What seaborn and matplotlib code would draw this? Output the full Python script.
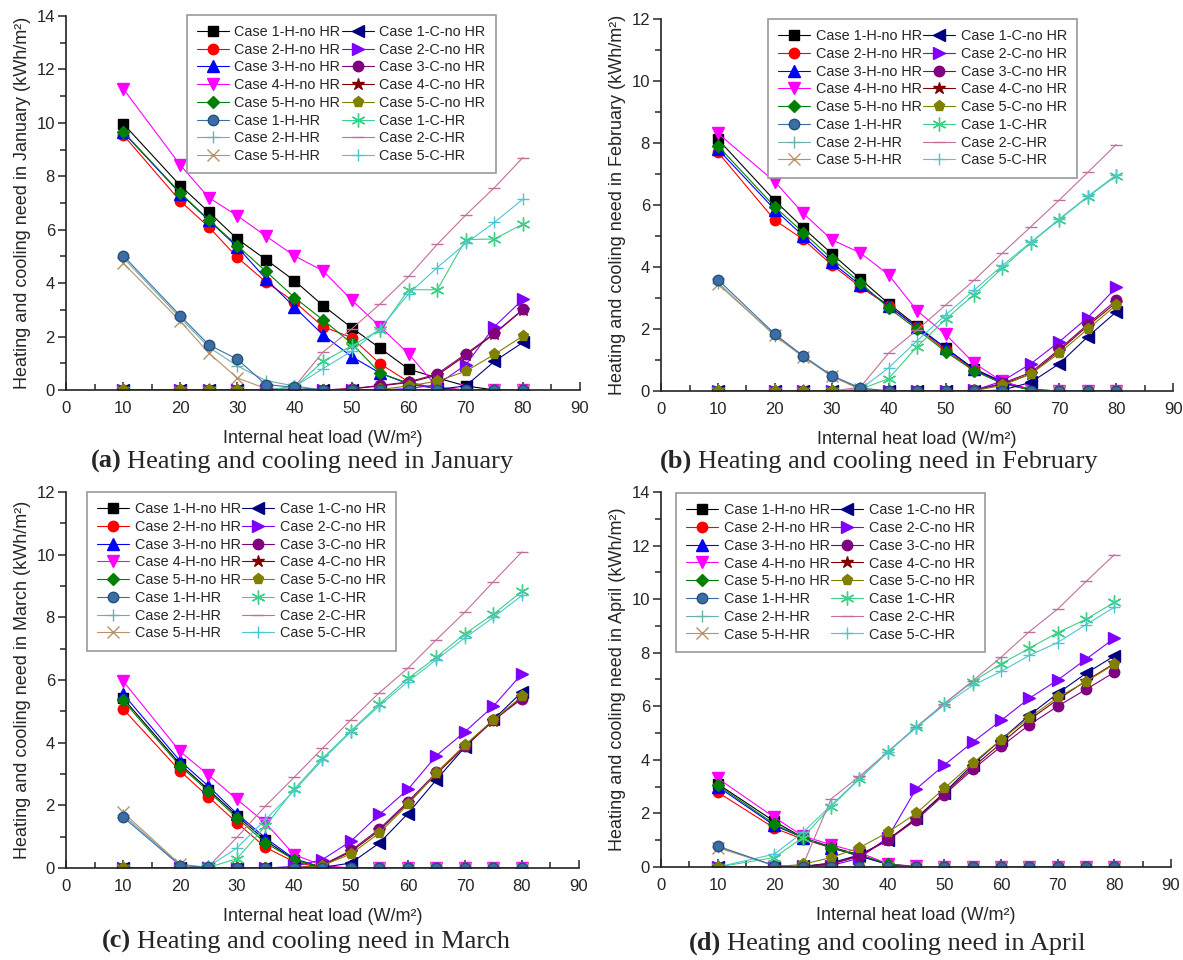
import numpy as np
import pandas as pd
import seaborn as sns
import matplotlib.pyplot as plt
from matplotlib.ticker import MultipleLocator

# internal heat load (W/m2), same for every panel
heat_load = [10, 20, 25, 30, 35, 40, 45, 50, 55, 60, 65, 70, 75, 80]

# ---- January ----
jan_1h = [9.97, 7.65, 6.66, 5.65, 4.88, 4.09, 3.16, 2.33, 1.56, 0.78, 0.45, 0.15, 0, 0]
jan_2h = [9.55, 7.07, 6.10, 4.96, 4.04, 3.30, 2.37, 1.96, 0.98, 0.30, 0.05, 0, 0, 0]
jan_3h = [9.65, 7.35, 6.35, 5.35, 4.16, 3.10, 2.06, 1.25, 0.63, 0.22, 0.05, 0, 0, 0]
jan_4h = [11.28, 8.42, 7.20, 6.52, 5.76, 5.02, 4.46, 3.37, 2.37, 1.35, 0.10, 0, 0, 0]
jan_5h = [9.67, 7.38, 6.37, 5.40, 4.44, 3.46, 2.62, 1.75, 0.63, 0.25, 0.05, 0, 0, 0]
jan_1h_hr = [5.03, 2.78, 1.69, 1.15, 0.20, 0.10, 0, 0, 0, 0, 0, 0, 0, 0]
jan_2h_hr = [4.95, 2.70, 1.60, 0.90, 0.35, 0.15, 0, 0, 0, 0, 0, 0, 0, 0]
jan_5h_hr = [4.75, 2.58, 1.38, 0.45, 0.05, 0, 0, 0, 0, 0, 0, 0, 0, 0]
jan_1c = [0, 0, 0, 0, 0, 0, 0, 0, 0, 0, 0.02, 0.15, 1.07, 1.78]
jan_2c = [0, 0, 0, 0, 0, 0, 0, 0, 0, 0.05, 0.20, 0.94, 2.37, 3.39]
jan_3c = [0, 0, 0, 0, 0, 0, 0, 0.05, 0.17, 0.30, 0.60, 1.35, 2.12, 3.02]
jan_4c = [0, 0, 0, 0, 0, 0, 0, 0.04, 0.15, 0.28, 0.55, 1.30, 2.10, 3.00]
jan_5c = [0, 0, 0, 0, 0, 0, 0, 0, 0.02, 0.15, 0.33, 0.70, 1.33, 2.02]
jan_1c_hr = [0, 0, 0, 0, 0, 0.10, 1.07, 1.65, 2.25, 3.75, 3.75, 5.63, 5.65, 6.21]
jan_2c_hr = [0, 0, 0, 0, 0, 0.12, 1.42, 2.28, 3.22, 4.25, 5.45, 6.55, 7.57, 8.70]
jan_5c_hr = [0, 0, 0, 0, 0, 0.12, 0.80, 1.45, 2.30, 3.60, 4.58, 5.49, 6.27, 7.14]

# ---- February ----
feb_1h = [8.12, 6.14, 5.26, 4.43, 3.62, 2.82, 2.10, 1.38, 0.72, 0.30, 0.05, 0, 0, 0]
feb_2h = [7.70, 5.51, 4.89, 4.07, 3.36, 2.75, 2.05, 1.32, 0.68, 0.25, 0.03, 0, 0, 0]
feb_3h = [7.80, 5.85, 5.00, 4.15, 3.42, 2.75, 2.05, 1.40, 0.70, 0.28, 0.03, 0, 0, 0]
feb_4h = [8.31, 6.75, 5.73, 4.88, 4.46, 3.75, 2.59, 1.83, 0.90, 0.31, 0.05, 0, 0, 0]
feb_5h = [7.91, 5.94, 5.11, 4.27, 3.50, 2.68, 1.99, 1.27, 0.65, 0.24, 0.03, 0, 0, 0]
feb_1h_hr = [3.59, 1.84, 1.13, 0.50, 0.10, 0, 0, 0, 0, 0, 0, 0, 0, 0]
feb_2h_hr = [3.50, 1.78, 1.10, 0.47, 0.08, 0, 0, 0, 0, 0, 0, 0, 0, 0]
feb_5h_hr = [3.45, 1.80, 1.10, 0.48, 0.05, 0, 0, 0, 0, 0, 0, 0, 0, 0]
feb_1c = [0, 0, 0, 0, 0, 0, 0, 0, 0, 0.03, 0.28, 0.88, 1.75, 2.55]
feb_2c = [0, 0, 0, 0, 0, 0, 0, 0, 0.02, 0.32, 0.88, 1.59, 2.37, 3.34]
feb_3c = [0, 0, 0, 0, 0, 0, 0, 0, 0.02, 0.25, 0.60, 1.35, 2.15, 2.93]
feb_4c = [0, 0, 0, 0, 0, 0, 0, 0, 0.02, 0.22, 0.55, 1.30, 2.10, 2.85]
feb_5c = [0, 0, 0, 0, 0, 0, 0, 0, 0.01, 0.18, 0.55, 1.22, 2.00, 2.77]
feb_1c_hr = [0, 0, 0, 0, 0.05, 0.40, 1.43, 2.31, 3.11, 3.97, 4.78, 5.53, 6.26, 6.94]
feb_2c_hr = [0, 0, 0, 0, 0.12, 1.22, 1.97, 2.77, 3.57, 4.45, 5.30, 6.16, 7.05, 7.95]
feb_5c_hr = [0, 0, 0, 0, 0.05, 0.75, 1.62, 2.45, 3.25, 4.05, 4.80, 5.55, 6.28, 6.97]

# ---- March ----
mar_1h = [5.42, 3.32, 2.50, 1.67, 0.88, 0.27, 0.02, 0, 0, 0, 0, 0, 0, 0]
mar_2h = [5.08, 3.10, 2.27, 1.44, 0.66, 0.20, 0, 0, 0, 0, 0, 0, 0, 0]
mar_3h = [5.56, 3.42, 2.61, 1.73, 0.96, 0.30, 0.02, 0, 0, 0, 0, 0, 0, 0]
mar_4h = [5.97, 3.72, 2.97, 2.19, 1.44, 0.43, 0.08, 0, 0, 0, 0, 0, 0, 0]
mar_5h = [5.35, 3.26, 2.45, 1.60, 0.80, 0.27, 0.02, 0, 0, 0, 0, 0, 0, 0]
mar_1h_hr = [1.63, 0.08, 0.02, 0, 0, 0, 0, 0, 0, 0, 0, 0, 0, 0]
mar_2h_hr = [1.70, 0.10, 0.02, 0, 0, 0, 0, 0, 0, 0, 0, 0, 0, 0]
mar_5h_hr = [1.78, 0.12, 0.02, 0, 0, 0, 0, 0, 0, 0, 0, 0, 0, 0]
mar_1c = [0, 0, 0, 0, 0, 0, 0.02, 0.16, 0.80, 1.74, 2.82, 3.86, 4.74, 5.62]
mar_2c = [0, 0, 0, 0, 0, 0.05, 0.27, 0.86, 1.71, 2.51, 3.59, 4.35, 5.17, 6.20]
mar_3c = [0, 0, 0, 0, 0, 0, 0.10, 0.56, 1.25, 2.12, 3.05, 3.90, 4.72, 5.40]
mar_4c = [0, 0, 0, 0, 0, 0, 0.08, 0.52, 1.20, 2.08, 3.00, 3.88, 4.70, 5.45]
mar_5c = [0, 0, 0, 0, 0, 0, 0.08, 0.45, 1.12, 2.03, 3.04, 3.93, 4.73, 5.48]
mar_1c_hr = [0, 0, 0.02, 0.30, 1.34, 2.51, 3.50, 4.38, 5.24, 6.05, 6.73, 7.48, 8.10, 8.83]
mar_2c_hr = [0, 0, 0.05, 0.98, 1.98, 2.89, 3.82, 4.73, 5.60, 6.38, 7.29, 8.17, 9.14, 10.09]
mar_5c_hr = [0, 0, 0.05, 0.64, 1.55, 2.46, 3.45, 4.35, 5.18, 5.95, 6.65, 7.35, 8.00, 8.70]

# ---- April ----
apr_1h = [3.10, 1.70, 1.10, 0.75, 0.45, 0.10, 0, 0, 0, 0, 0, 0, 0, 0]
apr_2h = [2.79, 1.45, 1.04, 0.72, 0.41, 0.10, 0, 0, 0, 0, 0, 0, 0, 0]
apr_3h = [3.00, 1.55, 1.10, 0.72, 0.41, 0.10, 0, 0, 0, 0, 0, 0, 0, 0]
apr_4h = [3.31, 1.85, 1.16, 0.83, 0.54, 0.12, 0.02, 0, 0, 0, 0, 0, 0, 0]
apr_5h = [3.06, 1.60, 1.10, 0.72, 0.45, 0.12, 0, 0, 0, 0, 0, 0, 0, 0]
apr_1h_hr = [0.78, 0.05, 0, 0, 0, 0, 0, 0, 0, 0, 0, 0, 0, 0]
apr_2h_hr = [0.75, 0.05, 0, 0, 0, 0, 0, 0, 0, 0, 0, 0, 0, 0]
apr_5h_hr = [0.72, 0.05, 0, 0, 0, 0, 0, 0, 0, 0, 0, 0, 0, 0]
apr_1c = [0, 0, 0.02, 0.15, 0.45, 1.00, 1.82, 2.78, 3.82, 4.75, 5.67, 6.48, 7.23, 7.88]
apr_2c = [0, 0, 0.02, 0.05, 0.33, 1.10, 2.91, 3.81, 4.66, 5.47, 6.30, 6.98, 7.76, 8.54]
apr_3c = [0, 0, 0.02, 0.10, 0.40, 1.00, 1.75, 2.70, 3.64, 4.50, 5.31, 6.00, 6.63, 7.27]
apr_4c = [0, 0, 0.02, 0.12, 0.42, 1.02, 1.80, 2.75, 3.72, 4.62, 5.50, 6.25, 6.95, 7.60]
apr_5c = [0, 0, 0.10, 0.35, 0.72, 1.29, 2.00, 2.94, 3.88, 4.75, 5.58, 6.33, 6.92, 7.57]
apr_1c_hr = [0, 0.35, 1.10, 2.25, 3.29, 4.29, 5.22, 6.10, 6.92, 7.58, 8.17, 8.75, 9.25, 9.88]
apr_2c_hr = [0, 0, 0.05, 2.54, 3.38, 4.30, 5.22, 6.10, 6.95, 7.83, 8.79, 9.63, 10.66, 11.66]
apr_5c_hr = [0, 0.48, 1.29, 2.30, 3.30, 4.28, 5.20, 6.05, 6.78, 7.30, 7.90, 8.38, 9.05, 9.70]

# legend order: first column heating, second column cooling
series_labels = ["Case 1-H-no HR", "Case 2-H-no HR", "Case 3-H-no HR", "Case 4-H-no HR",
                 "Case 5-H-no HR", "Case 1-H-HR", "Case 2-H-HR", "Case 5-H-HR",
                 "Case 1-C-no HR", "Case 2-C-no HR", "Case 3-C-no HR", "Case 4-C-no HR",
                 "Case 5-C-no HR", "Case 1-C-HR", "Case 2-C-HR", "Case 5-C-HR"]

colors = ["#000000", "#ff0000", "#0000ff", "#ff00ff", "#008000", "#3c6ea6", "#70aeae", "#b8916a",
          "#000080", "#8000ff", "#800080", "#800000", "#808000", "#3ecf88", "#c0709a", "#4cc6cf"]
markers = ["s", "o", "^", "v", "D", "o", "+", "x",
           "<", ">", "o", "*", "p", (6, 2, 0), "_", "+"]
msizes = [7, 7.5, 8, 8, 6.5, 7.5, 9, 8, 8, 8, 7.5, 9, 8, 10, 9, 9]
# drawing order tweaks: spheres and olive pentagons show on the zero line,
# case 4 cooling sits under case 3 cooling
zorders = [2, 2, 2, 2, 2, 2.4, 2, 2, 2, 2, 2.2, 2.1, 2.3, 2, 2, 2]

jan = [jan_1h, jan_2h, jan_3h, jan_4h, jan_5h, jan_1h_hr, jan_2h_hr, jan_5h_hr,
       jan_1c, jan_2c, jan_3c, jan_4c, jan_5c, jan_1c_hr, jan_2c_hr, jan_5c_hr]
feb = [feb_1h, feb_2h, feb_3h, feb_4h, feb_5h, feb_1h_hr, feb_2h_hr, feb_5h_hr,
       feb_1c, feb_2c, feb_3c, feb_4c, feb_5c, feb_1c_hr, feb_2c_hr, feb_5c_hr]
mar = [mar_1h, mar_2h, mar_3h, mar_4h, mar_5h, mar_1h_hr, mar_2h_hr, mar_5h_hr,
       mar_1c, mar_2c, mar_3c, mar_4c, mar_5c, mar_1c_hr, mar_2c_hr, mar_5c_hr]
apr = [apr_1h, apr_2h, apr_3h, apr_4h, apr_5h, apr_1h_hr, apr_2h_hr, apr_5h_hr,
       apr_1c, apr_2c, apr_3c, apr_4c, apr_5c, apr_1c_hr, apr_2c_hr, apr_5c_hr]

sns.set_style("ticks")
plt.rcParams['font.family'] = ['Liberation Sans', 'DejaVu Sans']

fig = plt.figure(figsize=(11.83, 9.6), dpi=100)

# month, data, ymax, tag, axes rect, legend anchor (axes coords), caption centre
panels = [
    ("January", jan, 14, "(a)", [0.0558, 0.5938, 0.4345, 0.3896], (0.235, 1.003), 302, 0.519),
    ("February", feb, 12, "(b)", [0.5588, 0.5927, 0.4328, 0.3875], (0.209, 1.0), 879, 0.519),
    ("March", mar, 12, "(c)", [0.0558, 0.0958, 0.4336, 0.3917], (0.041, 1.0), 306, 0.019),
    ("April", apr, 14, "(d)", [0.5588, 0.0969, 0.4311, 0.3906], (0.029, 0.997), 887, 0.017),
]

W = 1183.0
renderer = fig.canvas.get_renderer()

for month, data, ymax, tag, rect, lg_anchor, cap_x, cap_y in panels:
    ax = fig.add_axes(rect)
    for vals, lab, c, m, ms, z in zip(data, series_labels, colors, markers, msizes, zorders):
        ec = "#24507e" if lab == "Case 1-H-HR" else c
        sns.lineplot(x=heat_load, y=vals, ax=ax, color=c, marker=m, markersize=ms,
                     markeredgecolor=ec, markeredgewidth=1.0, linewidth=0.8,
                     label=lab, zorder=z)
    ax.set_xlim(0, 90)
    ax.set_ylim(0, ymax)
    ax.xaxis.set_major_locator(MultipleLocator(10))
    ax.xaxis.set_minor_locator(MultipleLocator(5))
    ax.yaxis.set_major_locator(MultipleLocator(2))
    ax.yaxis.set_minor_locator(MultipleLocator(1))
    ax.tick_params(axis='x', which='major', direction='in', length=6, width=1.1, labelsize=12, pad=8)
    ax.tick_params(axis='x', which='minor', direction='in', length=4, width=1.1)
    ax.tick_params(axis='y', which='major', direction='out', length=6, width=1.1, labelsize=12, pad=2)
    ax.tick_params(axis='y', which='minor', direction='out', length=4, width=1.1)
    sns.despine(ax=ax)
    for side in ['left', 'bottom']:
        ax.spines[side].set_linewidth(1.2)
        ax.spines[side].set_color('#222222')
    ax.set_xlabel("Internal heat load (W/m²)", fontsize=13, labelpad=10)
    ax.set_ylabel("Heating and cooling need in " + month + " (kWh/m²)", fontsize=13, labelpad=4)

    handles, labels = ax.get_legend_handles_labels()
    leg = ax.legend(handles, labels, ncol=2, loc='upper left', bbox_to_anchor=lg_anchor,
                    borderaxespad=0, fontsize=10.4, frameon=True, fancybox=False,
                    edgecolor='#999999', framealpha=1, handlelength=2.2, handletextpad=0.4,
                    columnspacing=0.1, labelspacing=0.26, borderpad=0.7)
    leg.get_frame().set_linewidth(1.2)
    leg.set_zorder(5)

    # caption under the panel: bold tag + normal text, centred at cap_x
    t1 = fig.text(0, cap_y, tag, fontsize=19, fontweight='bold',
                  family=['Liberation Serif', 'DejaVu Serif'], va='center')
    t2 = fig.text(0, cap_y, "Heating and cooling need in " + month, fontsize=19,
                  family=['Liberation Serif', 'DejaVu Serif'], va='center')
    w1 = t1.get_window_extent(renderer).width
    w2 = t2.get_window_extent(renderer).width
    gap = 6
    x0 = cap_x - (w1 + gap + w2) / 2
    t1.set_x(x0 / W)
    t2.set_x((x0 + w1 + gap) / W)

fig.savefig("out.png", dpi=100)
plt.close()
